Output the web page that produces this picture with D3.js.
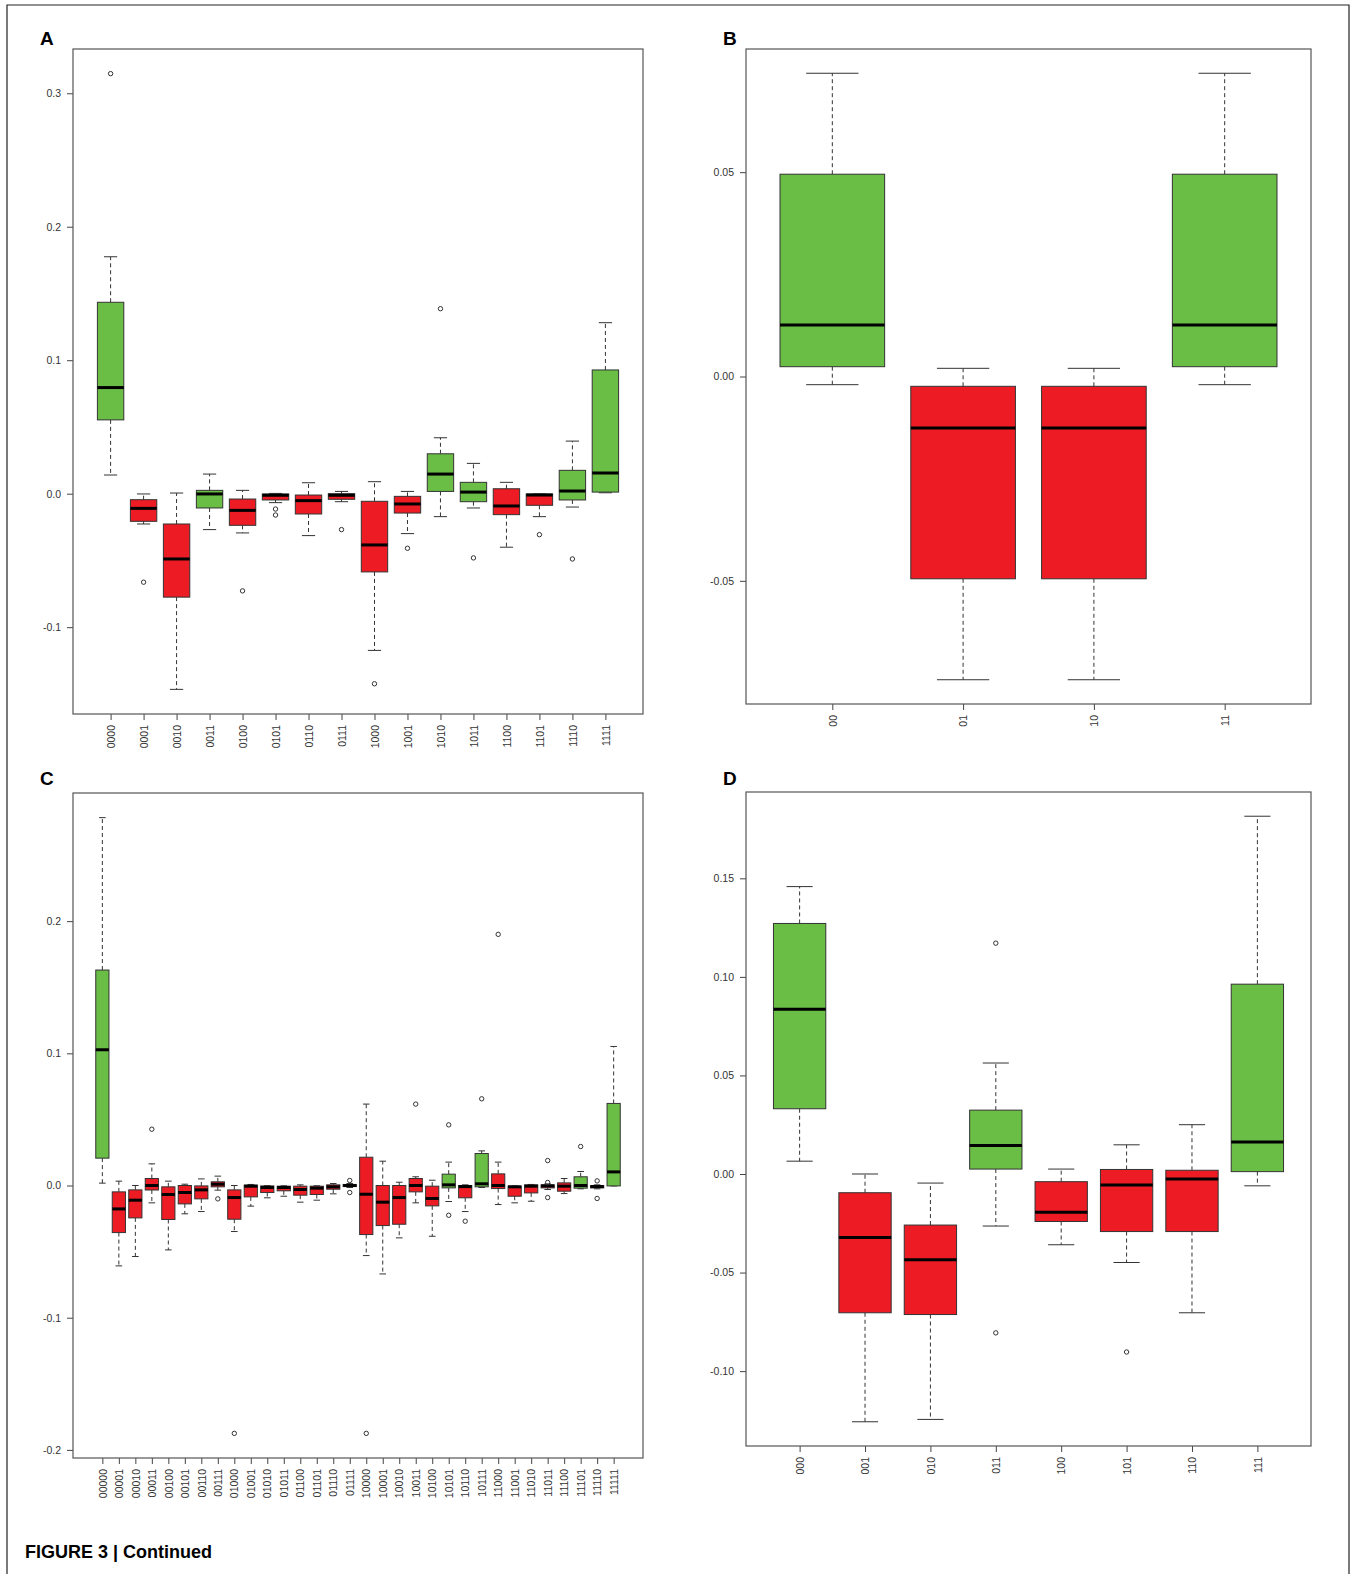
<!DOCTYPE html>
<html>
<head>
<meta charset="UTF-8">
<title>Figure 3 continued</title>
<script src="https://d3js.org/d3.v7.min.js"></script>
<style>
  body { margin: 0; padding: 0; background: #fff; }
  svg { display: block; }
  .tick text { font-family: Arial, "Liberation Sans", sans-serif; font-size: 10.5px; fill: #333; }
  .tick line { stroke: #444; }
</style>
</head>
<body>
<svg width="1357" height="1574"></svg>
<script>
// ---- data: [lower whisker, Q1, median, Q3, upper whisker] per category ----
const catsA = ["0000","0001","0010","0011","0100","0101","0110","0111",
               "1000","1001","1010","1011","1100","1101","1110","1111"];
const statsA = [
  [0.014, 0.0553, 0.0795, 0.1434, 0.1775],
  [-0.0227, -0.0207, -0.011, -0.0045, -0.0002],
  [-0.1466, -0.0775, -0.0489, -0.0227, 0.0005],
  [-0.0269, -0.0107, -0.0002, 0.0025, 0.0147],
  [-0.0294, -0.0237, -0.0125, -0.004, 0.0025],
  [-0.0067, -0.0047, -0.0012, -0.0002, 0.0002],
  [-0.0314, -0.0152, -0.0052, -0.001, 0.0082],
  [-0.006, -0.0042, -0.0012, 0, 0.0017],
  [-0.1174, -0.0586, -0.0384, -0.0057, 0.009],
  [-0.0299, -0.0145, -0.0077, -0.002, 0.0017],
  [-0.0172, 0.0017, 0.0147, 0.0299, 0.0419],
  [-0.0107, -0.006, 0.0012, 0.0085, 0.0227],
  [-0.0401, -0.0157, -0.0092, 0.0037, 0.0085],
  [-0.0172, -0.0087, -0.001, -0.0002, -0.0002],
  [-0.01, -0.0047, 0.002, 0.0175, 0.0394],
  [0.0007, 0.0012, 0.0155, 0.0927, 0.1281]
];
const outA = [[0.3147], [-0.0663], [], [], [-0.0728], [-0.0115, -0.016], [], [-0.0269],
              [-0.1424], [-0.0409], [0.1386], [-0.0481], [], [-0.0307], [-0.0489], []];
const upA = [1,0,0,1,0,0,0,0,0,0,1,1,0,0,1,1];
const ticksA = [-0.1, 0, 0.1, 0.2, 0.3];

const catsB = ["00","01","10","11"];
const statsB = [
  [-0.002, 0.0024, 0.0126, 0.0495, 0.0742],
  [-0.0742, -0.0495, -0.0126, -0.0024, 0.002],
  [-0.0742, -0.0495, -0.0126, -0.0024, 0.002],
  [-0.002, 0.0024, 0.0126, 0.0495, 0.0742]
];
const outB = [[], [], [], []];
const upB = [1,0,0,1];
const ticksB = [-0.05, 0, 0.05];

const catsC = ["00000","00001","00010","00011","00100","00101","00110","00111",
               "01000","01001","01010","01011","01100","01101","01110","01111",
               "10000","10001","10010","10011","10100","10101","10110","10111",
               "11000","11001","11010","11011","11100","11101","11110","11111"];
const statsC = [
  [0.0018, 0.0207, 0.1027, 0.163, 0.2783],
  [-0.0608, -0.0356, -0.0177, -0.0048, 0.0033],
  [-0.0537, -0.0245, -0.0111, -0.0033, 0.0],
  [-0.0131, -0.0034, 0.0, 0.0053, 0.0164],
  [-0.0487, -0.0257, -0.0068, -0.001, 0.0033],
  [-0.0214, -0.0139, -0.0053, 0.0, 0.001],
  [-0.0197, -0.0101, -0.0033, -0.0003, 0.005],
  [-0.0035, -0.001, 0.001, 0.0028, 0.0071],
  [-0.0348, -0.0255, -0.0091, -0.0033, 0.0],
  [-0.0156, -0.0086, -0.0005, 0.0003, 0.0008],
  [-0.0093, -0.0053, -0.0015, -0.0003, 0.0],
  [-0.0081, -0.004, -0.0015, -0.0005, -0.0002],
  [-0.0126, -0.0073, -0.003, -0.0005, 0.0005],
  [-0.0111, -0.0068, -0.002, -0.0005, -0.0002],
  [-0.0063, -0.0028, -0.001, 0.0005, 0.0015],
  [-0.0015, -0.0008, 0.0, 0.0008, 0.0015],
  [-0.053, -0.0371, -0.0066, 0.0214, 0.0616],
  [-0.0669, -0.0303, -0.0126, 0.0, 0.0184],
  [-0.0396, -0.0293, -0.0091, 0.0, 0.0025],
  [-0.0131, -0.0048, 0.0, 0.0053, 0.0066],
  [-0.0384, -0.0154, -0.0098, -0.0005, 0.004],
  [-0.0121, -0.0018, 0.0005, 0.0086, 0.0177],
  [-0.0197, -0.0093, -0.0008, 0.0, 0.0005],
  [-0.0015, -0.001, 0.0013, 0.0242, 0.0262],
  [-0.0144, -0.0023, 0.0, 0.0088, 0.0177],
  [-0.0131, -0.0081, -0.001, -0.0005, -0.0003],
  [-0.0119, -0.0056, -0.0005, 0.0005, 0.0008],
  [-0.003, -0.0018, -0.0003, 0.0005, 0.0012],
  [-0.0061, -0.0043, -0.0005, 0.002, 0.0053],
  [-0.0025, -0.002, 0.0, 0.0066, 0.0106],
  [-0.0025, -0.0018, -0.0008, 0.0, 0.0005],
  [-0.0003, -0.0003, 0.0103, 0.0621, 0.1052]
];
const outC = [[], [], [], [0.0426], [], [], [], [-0.0101],
              [-0.1875], [], [], [], [], [], [], [0.0038, -0.0053],
              [-0.1875], [], [], [0.0616], [], [0.0459, -0.0225], [-0.027], [0.0656],
              [0.19], [], [], [0.0189, 0.0023, -0.0091], [], [0.0295], [0.0035, -0.0098], []];
const upC = [1,0,0,0,0,0,0,0, 0,0,0,0,0,0,0,0, 0,0,0,0,0,1,0,1, 0,0,0,0,0,1,0,1];
const ticksC = [-0.2, -0.1, 0, 0.1, 0.2];

const catsD = ["000","001","010","011","100","101","110","111"];
const statsD = [
  [0.0065, 0.0331, 0.0836, 0.1271, 0.1458],
  [-0.1257, -0.0704, -0.0322, -0.0095, 0.0],
  [-0.1245, -0.0713, -0.0435, -0.0259, -0.0046],
  [-0.0264, 0.0025, 0.0144, 0.0324, 0.0563],
  [-0.0359, -0.0241, -0.0194, -0.0039, 0.0025],
  [-0.0449, -0.0292, -0.0056, 0.0023, 0.0148],
  [-0.0704, -0.0292, -0.0025, 0.0019, 0.025],
  [-0.006, 0.0012, 0.0162, 0.0963, 0.1815]
];
const outD = [[], [], [], [0.1171, -0.0806], [], [-0.0903], [], []];
const upD = [1,0,0,1,0,0,0,1];
const ticksD = [-0.1, -0.05, 0, 0.05, 0.1, 0.15];

const svg = d3.select("svg");
const GREEN = "#6abd45", RED = "#ed1c24", INK = "#333";

// outer frame (open at the bottom)
svg.append("path")
  .attr("d", "M7,1574V5H1349V1574")
  .attr("fill", "none").attr("stroke", "#222").attr("stroke-width", 1.2);

function drawPanel(p) {
  const g = svg.append("g");
  const n = p.cats.length;
  // R style: data range plus 4% on both sides
  const all = p.stats.flat().concat(p.outs.flat());
  const lo = d3.min(all), hi = d3.max(all), pad = (hi - lo) * 0.04;
  const y = d3.scaleLinear().domain([lo - pad, hi + pad]).range([p.bottom, p.top]);
  const x = d3.scaleLinear().domain([0.5 - 0.04 * n, n + 0.5 + 0.04 * n]).range([p.left, p.right]);
  const bw = (x(1) - x(0)) * 0.8;

  const yAxis = g.append("g")
    .attr("transform", `translate(${p.left},0)`)
    .call(d3.axisLeft(y).tickValues(p.ticks).tickFormat(d => d.toFixed(p.dec)).tickSize(6).tickPadding(6));
  yAxis.select(".domain").remove();

  const xAxis = g.append("g")
    .attr("transform", `translate(0,${p.bottom})`)
    .call(d3.axisBottom(x).tickValues(d3.range(1, n + 1)).tickFormat(i => p.cats[i - 1]).tickSize(6));
  xAxis.select(".domain").remove();
  xAxis.selectAll("text")
    .attr("transform", "rotate(-90)")
    .attr("x", -11).attr("y", 0).attr("dy", "0.35em")
    .attr("text-anchor", "end");

  const box = g.selectAll(".bx").data(p.stats).enter().append("g").attr("class", "bx");
  const cx = (d, i) => x(i + 1);

  // whiskers
  box.append("line")
    .attr("x1", cx).attr("x2", cx)
    .attr("y1", d => y(d[3])).attr("y2", d => y(d[4]))
    .attr("stroke", INK).attr("stroke-dasharray", "4,3");
  box.append("line")
    .attr("x1", cx).attr("x2", cx)
    .attr("y1", d => y(d[1])).attr("y2", d => y(d[0]))
    .attr("stroke", INK).attr("stroke-dasharray", "4,3");
  // staples
  [0, 4].forEach(k => {
    box.append("line")
      .attr("x1", (d, i) => cx(d, i) - bw / 4).attr("x2", (d, i) => cx(d, i) + bw / 4)
      .attr("y1", d => y(d[k])).attr("y2", d => y(d[k]))
      .attr("stroke", INK);
  });
  // boxes
  box.append("rect")
    .attr("x", (d, i) => cx(d, i) - bw / 2)
    .attr("y", d => y(d[3]))
    .attr("width", bw)
    .attr("height", d => Math.max(0.5, y(d[1]) - y(d[3])))
    .attr("fill", (d, i) => p.up[i] ? GREEN : RED)
    .attr("stroke", INK).attr("stroke-width", 1);
  // medians
  box.append("line")
    .attr("x1", (d, i) => cx(d, i) - bw / 2).attr("x2", (d, i) => cx(d, i) + bw / 2)
    .attr("y1", d => y(d[2])).attr("y2", d => y(d[2]))
    .attr("stroke", "#000").attr("stroke-width", 3);

  // outliers
  const pts = [];
  p.outs.forEach((arr, i) => arr.forEach(v => pts.push([i + 1, v])));
  g.selectAll(".out").data(pts).enter().append("circle")
    .attr("cx", d => x(d[0])).attr("cy", d => y(d[1]))
    .attr("r", 2.2).attr("fill", "none").attr("stroke", INK).attr("stroke-width", 1);

  // plot frame
  g.append("rect")
    .attr("x", p.left).attr("y", p.top)
    .attr("width", p.right - p.left).attr("height", p.bottom - p.top)
    .attr("fill", "none").attr("stroke", "#555").attr("stroke-width", 1.2);

  g.append("text")
    .attr("x", p.lx).attr("y", p.ly)
    .style("font-family", "Arial, 'Liberation Sans', sans-serif")
    .style("font-weight", "bold").style("font-size", "19px")
    .text(p.letter);
}

drawPanel({ cats: catsA, stats: statsA, outs: outA, up: upA, ticks: ticksA, dec: 1,
  left: 73, right: 643, top: 49, bottom: 714, letter: "A", lx: 40, ly: 45 });
drawPanel({ cats: catsB, stats: statsB, outs: outB, up: upB, ticks: ticksB, dec: 2,
  left: 746, right: 1311, top: 49, bottom: 704, letter: "B", lx: 723, ly: 45 });
drawPanel({ cats: catsC, stats: statsC, outs: outC, up: upC, ticks: ticksC, dec: 1,
  left: 73, right: 643, top: 793, bottom: 1458, letter: "C", lx: 40, ly: 785 });
drawPanel({ cats: catsD, stats: statsD, outs: outD, up: upD, ticks: ticksD, dec: 2,
  left: 746, right: 1311, top: 792, bottom: 1446, letter: "D", lx: 723, ly: 785 });

svg.append("text")
  .attr("x", 25).attr("y", 1558)
  .style("font-family", "Arial, 'Liberation Sans', sans-serif")
  .style("font-weight", "bold").style("font-size", "18px")
  .text("FIGURE 3 | Continued");
</script>
</body>
</html>
